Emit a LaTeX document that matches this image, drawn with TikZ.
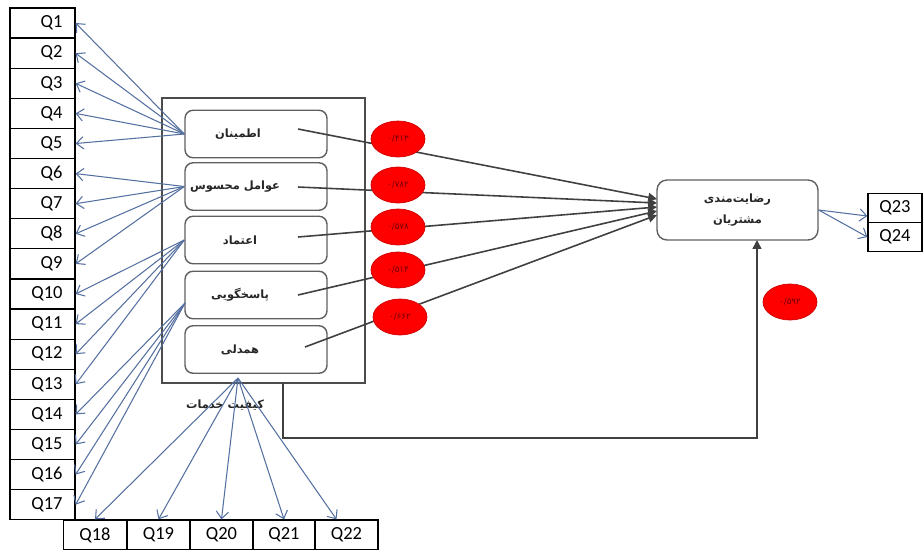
\documentclass[tikz,border=0pt]{standalone}
\usepackage{fontspec}
\setmainfont{Carlito}
\newfontfamily\arabicfont[Script=Arabic]{DejaVu Sans}
\TeXXeTstate=1
\usepackage{xcolor}
\usetikzlibrary{shapes.geometric, arrows.meta}
\definecolor{itemblue}{RGB}{84, 112, 160}
\definecolor{framegray}{RGB}{95, 95, 95}
\definecolor{coefred}{RGB}{255, 0, 0}

\begin{document}
\begin{tikzpicture}[
    x=0.02cm, y=-0.02cm,
    qbox/.style={draw=black, line width=0.7pt, minimum width=1.3cm, minimum height=0.602cm, inner sep=0pt, font=\fontsize{10.5}{12}\selectfont},
    qleft/.style={qbox, text width=0.8cm, align=right},
    qbottom/.style={qbox, minimum width=1.26cm},
    qright/.style={qbox, minimum width=1.08cm, minimum height=0.58cm},
    dimbox/.style={draw=framegray, line width=0.8pt, rounded corners=0.16cm, minimum width=2.84cm, minimum height=0.95cm, inner sep=0pt},
    fa/.style={font=\arabicfont\bfseries\fontsize{6.5}{11}\selectfont, text=black!85},
    coef/.style={ellipse, fill=coefred, draw=coefred!80!black, minimum width=1.08cm, minimum height=0.72cm, inner sep=0pt, font=\arabicfont\fontsize{5}{6}\selectfont, text=coefred!45!black},
    item/.style={draw=itemblue, line width=0.6pt, -{Straight Barb[length=4pt, width=7pt]}},
    path/.style={draw=black!75, line width=0.9pt, -{Triangle[length=5pt, width=5pt]}}
]
    \useasboundingbox (0,0) rectangle (923,549);

    % --- Items Q1 - Q17 (left column) ---
    \node[qleft] (q1)  at (42.5, 23.0)  {Q1};
    \node[qleft] (q2)  at (42.5, 53.2)  {Q2};
    \node[qleft] (q3)  at (42.5, 83.3)  {Q3};
    \node[qleft] (q4)  at (42.5, 113.4) {Q4};
    \node[qleft] (q5)  at (42.5, 143.5) {Q5};
    \node[qleft] (q6)  at (42.5, 173.6) {Q6};
    \node[qleft] (q7)  at (42.5, 203.7) {Q7};
    \node[qleft] (q8)  at (42.5, 233.8) {Q8};
    \node[qleft] (q9)  at (42.5, 263.9) {Q9};
    \node[qleft] (q10) at (42.5, 294.0) {Q10};
    \node[qleft] (q11) at (42.5, 324.1) {Q11};
    \node[qleft] (q12) at (42.5, 354.2) {Q12};
    \node[qleft] (q13) at (42.5, 384.3) {Q13};
    \node[qleft] (q14) at (42.5, 414.4) {Q14};
    \node[qleft] (q15) at (42.5, 444.5) {Q15};
    \node[qleft] (q16) at (42.5, 474.6) {Q16};
    \node[qleft] (q17) at (42.5, 504.7) {Q17};

    % --- Items Q18 - Q22 (bottom row) ---
    \node[qbottom] (q18) at (95.0, 535)  {Q18};
    \node[qbottom] (q19) at (158.5, 535) {Q19};
    \node[qbottom] (q20) at (221.5, 535) {Q20};
    \node[qbottom] (q21) at (284.0, 535) {Q21};
    \node[qbottom] (q22) at (346.5, 535) {Q22};

    % --- Items Q23, Q24 (right) ---
    \node[qright] (q23) at (895, 208) {Q23};
    \node[qright] (q24) at (895, 237) {Q24};

    % --- Service quality frame and its dimensions ---
    \node[draw=black!70, line width=0.9pt, minimum width=4.06cm, minimum height=5.7cm, inner sep=0pt] (servq) at (263.5, 240.5) {};
    \node[fa] (servq_lbl) at (225, 405) {\beginR کیفیت خدمات\endR};

    \node[dimbox, label={[fa, xshift=-0.36cm]center:\beginR اطمینان\endR}]     (d1) at (256, 134) {};
    \node[dimbox, label={[fa, xshift=-0.42cm]center:\beginR عوامل محسوس\endR}] (d2) at (256, 186.5) {};
    \node[dimbox, label={[fa, xshift=-0.32cm]center:\beginR اعتماد\endR}]      (d3) at (256, 240) {};
    \node[dimbox, label={[fa, xshift=-0.32cm]center:\beginR پاسخگویی\endR}]    (d4) at (256, 295) {};
    \node[dimbox, label={[fa, xshift=-0.32cm]center:\beginR همدلی\endR}]       (d5) at (256, 349.5) {};

    % --- Customer satisfaction ---
    \node[draw=framegray, line width=0.8pt, rounded corners=0.2cm, minimum width=3.22cm, minimum height=1.2cm, inner sep=0pt, fa, align=center] (sat) at (737.5, 210)
        {\beginR رضایت‌مندی\endR\\[1pt]\beginR مشتریان\endR};

    % --- Coordinates ---
    \coordinate (d1_out) at (298, 129);
    \coordinate (d2_out) at (298, 187);
    \coordinate (d3_out) at (298, 237);
    \coordinate (d4_out) at (298, 295);
    \coordinate (d5_out) at (305, 347);
    \coordinate (sat_in1) at (657, 199);
    \coordinate (sat_in2) at (657, 203);
    \coordinate (sat_in3) at (657, 207);
    \coordinate (sat_in4) at (657, 211);
    \coordinate (sat_in5) at (657, 215);
    \coordinate (d4_fan) at (185, 303);
    \coordinate (d5_fan) at (238, 378);
    \coordinate (loop_start) at (283, 383);
    \coordinate (sat_bot) at (757, 240);

    % --- Dimension -> items ---
    \draw[item] (d1.west) -- (q1.east);
    \draw[item] (d1.west) -- (q2.east);
    \draw[item] (d1.west) -- (q3.east);
    \draw[item] (d1.west) -- (q4.east);
    \draw[item] (d1.west) -- (q5.east);

    \draw[item] (d2.west) -- (q6.east);
    \draw[item] (d2.west) -- (q7.east);
    \draw[item] (d2.west) -- (q8.east);
    \draw[item] (d2.west) -- (q9.east);

    \draw[item] (d3.west) -- (q10.east);
    \draw[item] (d3.west) -- (q11.east);
    \draw[item] (d3.west) -- (q12.east);
    \draw[item] (d3.west) -- (q13.east);

    \draw[item] (d4_fan) -- (q14.east);
    \draw[item] (d4_fan) -- (q15.east);
    \draw[item] (d4_fan) -- (q16.east);
    \draw[item] (d4_fan) -- (q17.east);

    \draw[item] (d5_fan) -- (q18.north);
    \draw[item] (d5_fan) -- (q19.north);
    \draw[item] (d5_fan) -- (q20.north);
    \draw[item] (d5_fan) -- (q21.north);
    \draw[item] (d5_fan) -- ([xshift=-0.2cm]q22.north);

    \draw[item] (sat.east) -- ([yshift=-0.16cm]q23.west);
    \draw[item] (sat.east) -- (q24.west);

    % --- Paths to satisfaction ---
    \draw[path] (d1_out) -- (sat_in1);
    \draw[path] (d2_out) -- (sat_in2);
    \draw[path] (d3_out) -- (sat_in3);
    \draw[path] (d4_out) -- (sat_in4);
    \draw[path] (d5_out) -- (sat_in5);
    \draw[path] (loop_start) -- (283, 438) -| (sat_bot);

    % --- Coefficients ---
    \node[coef] (c1) at (398, 139) {۰/۴۱۳};
    \node[coef] (c2) at (398, 185) {۰/۷۸۲};
    \node[coef] (c3) at (398, 227) {۰/۵۷۸};
    \node[coef] (c4) at (398, 270) {۰/۵۱۴};
    \node[coef] (c5) at (400, 317) {۰/۶۶۲};
    \node[coef] (c6) at (790, 302) {۰/۵۹۲};

\end{tikzpicture}
\end{document}
